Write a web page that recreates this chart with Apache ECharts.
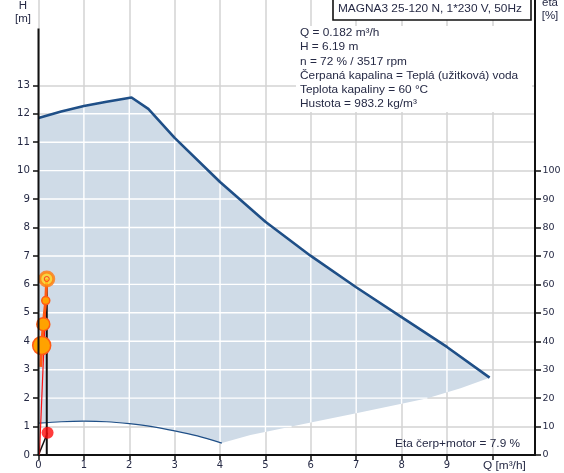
<!DOCTYPE html>
<html>
<head>
<meta charset="utf-8">
<script src="https://cdn.jsdelivr.net/npm/echarts@6/dist/echarts.min.js"></script>
<style>
  html, body { margin: 0; padding: 0; background: #fff; }
  #chart { width: 564px; height: 473px; }
</style>
</head>
<body>
<div id="chart"></div>
<script>
// Pump curve: MAGNA3 25-120 N — head H [m] over flow Q [m³/h]

// Maximum-speed curve (upper edge of the operating range)
const maxCurveQ = [0, 0.5, 1, 1.5, 2.05, 2.42, 3, 4, 5, 6, 7, 8, 9, 9.94];
const maxCurveH = [11.85, 12.08, 12.27, 12.42, 12.57, 12.17, 11.15, 9.6, 8.2, 7.0, 5.9, 4.85, 3.8, 2.72];

// Right-hand limit of the operating range
const limitQ = [9.94, 9.3, 8.57, 8, 7, 6, 4.67, 4.04];
const limitH = [2.72, 2.35, 2.0, 1.8, 1.47, 1.14, 0.7, 0.42];

// Minimum-speed curve (lower edge)
const minCurveQ = [4.04, 3.5, 3, 2.5, 2, 1.5, 1, 0.5, 0];
const minCurveH = [0.42, 0.67, 0.85, 1.0, 1.1, 1.17, 1.19, 1.17, 1.12];

// Duty point
const dutyQ = 0.182;
const dutyH = 6.19;

// Control-curve points leading to the duty point
const ctrlQ = [0.05, 0.07, 0.106, 0.16, 0.182];
const ctrlH = [3.1, 3.85, 4.6, 5.43, 6.19];
const ctrlSize = [0, 18, 13, 8, 0];

// System line from the origin
const sysQ = [0.02, 0.182];
const sysH = [0, 6.19];

// Power line at the origin and its point
const powQ = [0, 0.2];
const powH = [0, 0.78];

// Tick labels and grid lines
const hTicks = [0, 1, 2, 3, 4, 5, 6, 7, 8, 9, 10, 11, 12, 13];
const etaTicks = [0, 10, 20, 30, 40, 50, 60, 70, 80, 90, 100];
const qTicks = [0, 1, 2, 3, 4, 5, 6, 7, 8, 9, 10];
const hGrid = [1, 2, 3, 4, 5, 6, 7, 8, 9, 10, 11, 12, 13, 14, 15];
const qGrid = [1, 2, 3, 4, 5, 6, 7, 8, 9, 10];
const hAxisTop = 15;

const infoLines = [
  'Q = 0.182 m³/h',
  'H = 6.19 m',
  'n = 72 % / 3517 rpm',
  'Čerpaná kapalina = Teplá (užitková) voda',
  'Teplota kapaliny = 60 °C',
  'Hustota = 983.2 kg/m³'
];
const pumpTitle = 'MAGNA3 25-120 N, 1*230 V, 50Hz';
const etaText = 'Eta čerp+motor = 7.9 %';
const qAxisName = 'Q [m³/h]';

const zip = (a, b) => a.map((v, i) => [v, b[i]]);

// Closed outline of the operating range
const region = [[0, minCurveH[minCurveH.length - 1]]]
  .concat(zip(maxCurveQ, maxCurveH))
  .concat(zip(limitQ, limitH).slice(1))
  .concat(zip(minCurveQ, minCurveH).slice(1));

// Where a grid line (axis k = 0 for x, 1 for y, at value v) crosses the outline
function crossings(poly, k, v) {
  const o = 1 - k, out = [];
  for (let i = 0; i < poly.length; i++) {
    const a = poly[i], b = poly[(i + 1) % poly.length];
    if ((a[k] <= v && b[k] > v) || (b[k] <= v && a[k] > v)) {
      const t = (v - a[k]) / (b[k] - a[k]);
      out.push(a[o] + t * (b[o] - a[o]));
    }
  }
  return out.sort((p, q) => p - q);
}

const FONT = '"Liberation Sans", Arial, sans-serif';
const NUMFONT = '"DejaVu Sans", sans-serif';
const TXT = '#262a45';
const BLUE = '#1f4f87';
const FILL = '#cfdbe7';
const WIDE = 1.15;

const chart = echarts.init(document.getElementById('chart'), null, { renderer: 'canvas' });

chart.setOption({
  animation: false,
  backgroundColor: '#fff',
  grid: { left: 38.5, right: 29, top: -2.6, bottom: 18, containLabel: false },
  xAxis: {
    type: 'value', min: 0, max: 10.94, interval: 1,
    axisLine: { onZero: false, lineStyle: { color: '#111', width: 2 } },
    axisTick: { length: 5, customValues: qTicks, lineStyle: { color: '#111', width: 1.5 } },
    axisLabel: {
      customValues: qTicks, margin: 5, fontFamily: NUMFONT, fontSize: 10, color: TXT,
      formatter: v => (v === 10 ? '' : String(v))
    },
    splitLine: { show: true, lineStyle: { color: '#d3d3d3', width: 1.5 } }
  },
  yAxis: [
    {
      type: 'value', min: 0, max: 16, interval: 1,
      axisLine: { show: false },
      axisTick: { show: true, length: 5.5, customValues: hTicks, lineStyle: { color: '#111', width: 1.5 } },
      axisLabel: { customValues: hTicks, margin: 8.5, fontFamily: NUMFONT, fontSize: 10.2, color: TXT },
      splitLine: { show: true, lineStyle: { color: '#d3d3d3', width: 1.5 } }
    },
    {
      type: 'value', min: 0, max: 160, interval: 10, position: 'right',
      axisLine: { show: true, onZero: false, lineStyle: { color: '#111', width: 2 } },
      axisTick: { show: true, length: 6, customValues: etaTicks, lineStyle: { color: '#111', width: 1.5 } },
      axisLabel: { customValues: etaTicks, margin: 7.5, fontFamily: NUMFONT, fontSize: 9.5, color: TXT },
      splitLine: { show: false }
    }
  ],
  series: [
    {
      // operating range: filled outline with white grid lines inside it
      type: 'custom', coordinateSystem: 'cartesian2d', silent: true, z: 1,
      data: [0],
      renderItem: (params, api) => {
        const children = [{
          type: 'polygon',
          shape: { points: region.map(p => api.coord(p)) },
          style: { fill: FILL, stroke: null }
        }];
        const seg = (p1, p2) => children.push({
          type: 'line',
          shape: { x1: p1[0], y1: p1[1], x2: p2[0], y2: p2[1] },
          style: { stroke: '#ffffff', lineWidth: 1.4 }
        });
        qGrid.forEach(q => {
          const c = crossings(region, 0, q);
          for (let i = 0; i + 1 < c.length; i += 2) seg(api.coord([q, c[i]]), api.coord([q, c[i + 1]]));
        });
        hGrid.forEach(h => {
          const c = crossings(region, 1, h);
          for (let i = 0; i + 1 < c.length; i += 2) seg(api.coord([c[i], h]), api.coord([c[i + 1], h]));
        });
        return { type: 'group', children };
      }
    },
    {
      // H axis line, ending at the top grid line
      type: 'line', z: 8, clip: false, data: [[0, 0], [0, hAxisTop]], showSymbol: false, silent: true,
      lineStyle: { color: '#111', width: 2 }
    },
    {
      type: 'line', z: 3, data: zip(maxCurveQ, maxCurveH), showSymbol: false,
      lineStyle: { color: BLUE, width: 2.6 }
    },
    {
      type: 'line', z: 3, data: zip(minCurveQ, minCurveH), showSymbol: false, smooth: 0.3,
      lineStyle: { color: BLUE, width: 1.2 }
    },
    {
      // power line at the origin
      type: 'line', z: 4, data: zip(powQ, powH), showSymbol: false,
      lineStyle: { color: '#111', width: 1.5 }
    },
    {
      // flow line up to the duty point
      type: 'line', z: 4, data: [[dutyQ, 0], [dutyQ, dutyH]], showSymbol: false,
      lineStyle: { color: '#111', width: 2 }
    },
    {
      // system line
      type: 'line', z: 5, data: zip(sysQ, sysH), showSymbol: false,
      lineStyle: { color: '#ff1010', width: 1.2 }
    },
    {
      // control curve points
      type: 'line', z: 6, data: zip(ctrlQ, ctrlH),
      symbol: 'circle', showSymbol: true, showAllSymbol: true,
      symbolSize: (v, p) => ctrlSize[p.dataIndex],
      lineStyle: { color: '#ff5a14', width: 3 },
      itemStyle: { color: '#ffa200', borderColor: '#ff5a14', borderWidth: 1.5 }
    },
    {
      // duty point
      type: 'scatter', z: 7, data: [[dutyQ, dutyH]], symbolSize: 14,
      itemStyle: { color: '#ffd21a', borderColor: '#ff7a10', borderWidth: 3 }
    },
    {
      type: 'scatter', z: 7, data: [[dutyQ, dutyH]], symbolSize: 5,
      itemStyle: { color: 'rgba(0,0,0,0)', borderColor: '#ff1a1a', borderWidth: 1 }
    },
    {
      // power point
      type: 'scatter', z: 7, data: [[powQ[1], powH[1]]], symbolSize: 12,
      itemStyle: { color: '#ff0a0a' }
    }
  ],
  graphic: [
    {
      type: 'rect', z: 10,
      shape: { x: 296, y: 26, width: 236, height: 86 },
      style: { fill: '#ffffff' }
    },
    {
      type: 'text', z: 11, x: 300, y: 26, scaleX: WIDE,
      style: {
        text: infoLines.join('\n'), fontFamily: FONT, fontSize: 10.3, lineHeight: 14.3,
        fill: TXT, textVerticalAlign: 'top'
      }
    },
    {
      type: 'rect', z: 11,
      shape: { x: 333, y: -5, width: 198, height: 25 },
      style: { fill: '#ffffff', stroke: '#111', lineWidth: 1.6 }
    },
    {
      type: 'text', z: 12, x: 338, y: 9, scaleX: WIDE,
      style: { text: pumpTitle, fontFamily: FONT, fontSize: 10.3, fill: TXT, textVerticalAlign: 'middle' }
    },
    {
      type: 'text', z: 11, x: 23, y: 0, scaleX: WIDE,
      style: { text: 'H\n[m]', fontFamily: FONT, fontSize: 10, lineHeight: 13, fill: TXT, textAlign: 'center' }
    },
    {
      type: 'text', z: 11, x: 550, y: -3, scaleX: WIDE,
      style: { text: 'eta\n[%]', fontFamily: FONT, fontSize: 10, lineHeight: 13, fill: TXT, textAlign: 'center' }
    },
    {
      type: 'text', z: 11, x: 395, y: 444, scaleX: WIDE,
      style: { text: etaText, fontFamily: FONT, fontSize: 10.3, fill: TXT, textVerticalAlign: 'middle' }
    },
    {
      type: 'text', z: 11, x: 483, y: 466, scaleX: WIDE,
      style: { text: qAxisName, fontFamily: FONT, fontSize: 10.3, fill: TXT, textVerticalAlign: 'middle' }
    }
  ]
});
</script>
</body>
</html>
